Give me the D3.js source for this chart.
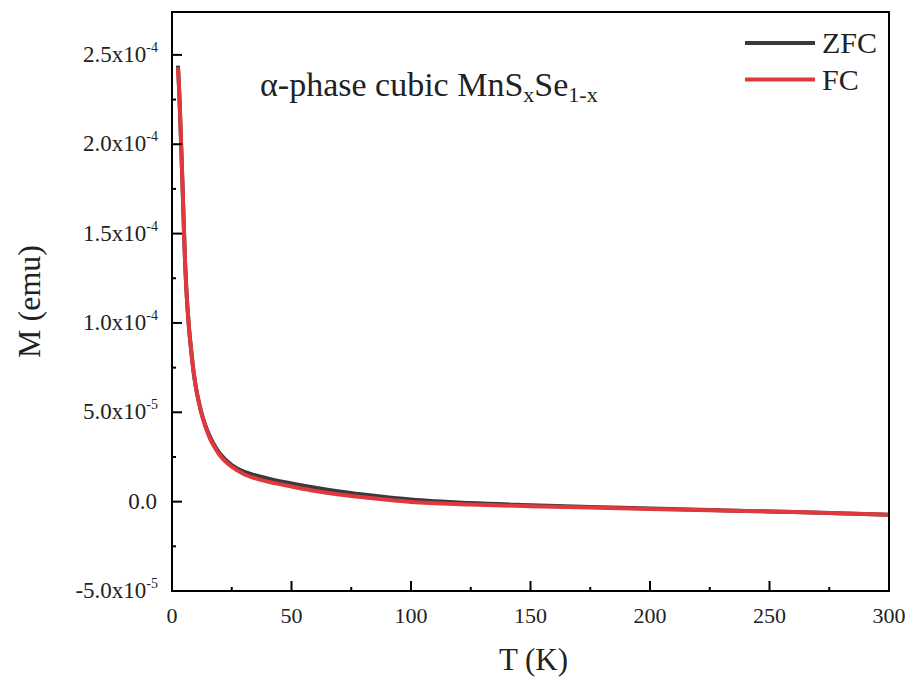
<!DOCTYPE html>
<html>
<head>
<meta charset="utf-8">
<script src="https://cdn.jsdelivr.net/npm/d3@7"></script>
<style>
  body { margin: 0; background: #fff; }
  svg { display: block; }
  text { font-family: "Liberation Serif", "Times New Roman", serif; }
</style>
</head>
<body>
<svg width="912" height="677"></svg>
<script>
// temperature points (K)
const temps = [2.5, 3, 3.5, 4, 4.5, 5, 5.5, 6, 7, 8, 9, 10, 12, 14, 16, 18, 20, 25, 30, 35, 40, 45, 50,
  60, 70, 80, 90, 100, 125, 150, 175, 200, 225, 250, 275, 300];

// magnetisation in units of 1e-5 emu
const zfc = [24.4, 23.0, 21.2, 19.3, 17.3, 15.2, 13.3, 11.9, 9.9, 8.5, 7.3, 6.4, 5.15, 4.25, 3.6, 3.1, 2.7, 2.05, 1.68, 1.47, 1.3, 1.15, 1.02,
  0.78, 0.57, 0.4, 0.25, 0.12, -0.08, -0.2, -0.3, -0.38, -0.47, -0.55, -0.63, -0.74];
const fc = [24.3, 23.0, 21.2, 19.3, 17.3, 15.2, 13.3, 11.9, 9.9, 8.5, 7.3, 6.4, 5.1, 4.2, 3.5, 3.0, 2.6, 1.95, 1.55, 1.3, 1.12, 0.98, 0.85,
  0.6, 0.4, 0.24, 0.1, -0.02, -0.16, -0.26, -0.33, -0.41, -0.48, -0.55, -0.63, -0.74];

const seriesNames = ["ZFC", "FC"];
const seriesColors = ["#3a3a3a", "#e0383d"];

const xTicks = [0, 50, 100, 150, 200, 250, 300];
const yTicks = [-5e-5, 0, 5e-5, 1e-4, 1.5e-4, 2e-4, 2.5e-4];
const yTickLabels = [["-5.0x10", "-5"], ["0.0", ""], ["5.0x10", "-5"], ["1.0x10", "-4"],
  ["1.5x10", "-4"], ["2.0x10", "-4"], ["2.5x10", "-4"]];

const svg = d3.select("svg");
const margin = {left: 172, right: 23, top: 12, bottom: 86};
const W = 912, H = 677;

const x = d3.scaleLinear().domain([0, 300]).range([margin.left, W - margin.right]);
const y = d3.scaleLinear().domain([-5e-5, 2.74e-4]).range([H - margin.bottom, margin.top]);

// curves
const line = d3.line()
  .x(d => x(d[0]))
  .y(d => y(d[1] * 1e-5))
  .curve(d3.curveMonotoneX);

[zfc, fc].forEach((vals, i) => {
  svg.append("path")
    .datum(temps.map((t, j) => [t, vals[j]]))
    .attr("d", line)
    .attr("fill", "none")
    .attr("stroke", seriesColors[i])
    .attr("stroke-width", 4)
    .attr("stroke-linejoin", "round");
});

// frame
svg.append("rect")
  .attr("x", x(0)).attr("y", y.range()[1])
  .attr("width", x(300) - x(0)).attr("height", y.range()[0] - y.range()[1])
  .attr("fill", "none").attr("stroke", "#000").attr("stroke-width", 2);

// x ticks (inward)
const xAxisG = svg.append("g");
d3.range(0, 301, 25).forEach(v => {
  const major = v % 50 === 0;
  xAxisG.append("line")
    .attr("x1", x(v)).attr("x2", x(v))
    .attr("y1", y.range()[0]).attr("y2", y.range()[0] - (major ? 10 : 4))
    .attr("stroke", "#000").attr("stroke-width", 2);
});
xAxisG.selectAll("text.tick")
  .data(xTicks)
  .enter().append("text")
    .attr("x", d => x(d))
    .attr("y", 623)
    .attr("text-anchor", "middle")
    .attr("font-size", 22)
    .attr("fill", "#222")
    .text(d => d);

// y ticks (inward)
const yAxisG = svg.append("g");
d3.range(-5e-5, 2.7e-4, 2.5e-5).forEach((v, i) => {
  const major = i % 2 === 0;
  yAxisG.append("line")
    .attr("x1", x(0)).attr("x2", x(0) + (major ? 10 : 4))
    .attr("y1", y(v)).attr("y2", y(v))
    .attr("stroke", "#000").attr("stroke-width", 2);
});
yTicks.forEach((v, i) => {
  const [base, exp] = yTickLabels[i];
  const t = yAxisG.append("text")
    .attr("x", exp ? 158 : 157)
    .attr("y", y(v) + 7)
    .attr("text-anchor", "end")
    .attr("font-size", 23)
    .attr("fill", "#222");
  t.append("tspan").text(base);
  if (exp) {
    t.append("tspan").attr("font-size", 14).attr("dy", -10).text(exp);
  }
});

// axis titles
svg.append("text")
  .attr("x", (x(0) + x(300)) / 2 + 3)
  .attr("y", 670)
  .attr("text-anchor", "middle")
  .attr("font-size", 31)
  .attr("fill", "#222")
  .text("T (K)");

svg.append("text")
  .attr("transform", `translate(40, ${(y.range()[0] + y.range()[1]) / 2}) rotate(-90)`)
  .attr("text-anchor", "middle")
  .attr("font-size", 32)
  .attr("fill", "#222")
  .text("M (emu)");

// title
const title = svg.append("text")
  .attr("x", 260).attr("y", 96)
  .attr("font-size", 34)
  .attr("fill", "#222");
title.append("tspan").text("α-phase cubic MnS");
title.append("tspan").attr("font-size", 22).attr("dy", 6).text("x");
title.append("tspan").attr("dy", -6).text("Se");
title.append("tspan").attr("font-size", 22).attr("dy", 6).text("1-x");

// legend
const legend = svg.append("g");
seriesNames.forEach((name, i) => {
  const ly = 43 + i * 36.5;
  legend.append("line")
    .attr("x1", 745).attr("x2", 815)
    .attr("y1", ly).attr("y2", ly)
    .attr("stroke", seriesColors[i])
    .attr("stroke-width", 4);
  legend.append("text")
    .attr("x", 822).attr("y", ly + 10)
    .attr("font-size", 30)
    .attr("fill", "#222")
    .text(name);
});
</script>
</body>
</html>
